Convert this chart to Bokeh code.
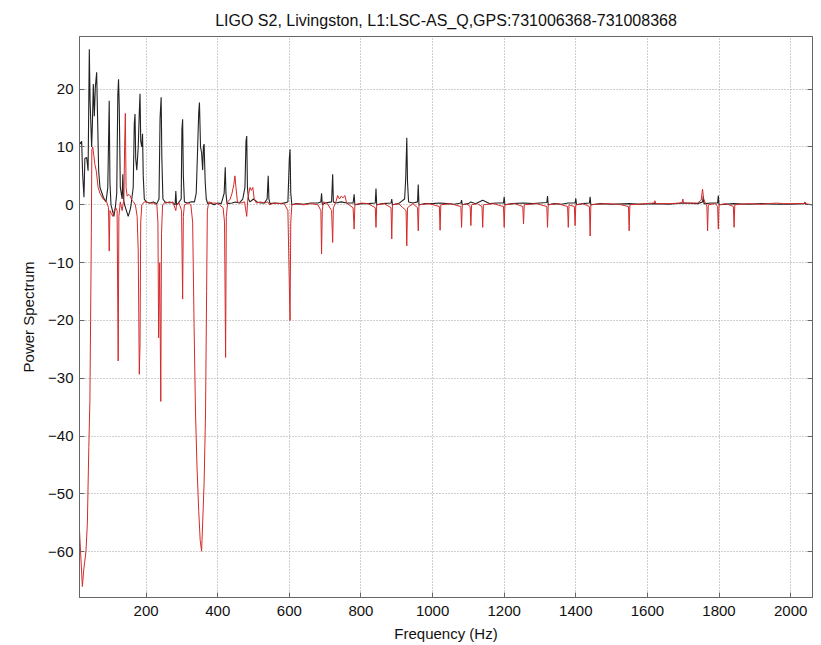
from bokeh.plotting import figure
from bokeh.models import Range1d, LinearAxis, FixedTicker
from bokeh.embed import file_html
from bokeh.resources import INLINE

TITLE = "LIGO S2, Livingston, L1:LSC-AS_Q,GPS:731006368-731008368"
X_LABEL = "Frequency (Hz)"
Y_LABEL = "Power Spectrum"
x_ticks = [200, 400, 600, 800, 1000, 1200, 1400, 1600, 1800, 2000]
y_ticks = [-60, -50, -40, -30, -20, -10, 0, 10, 20]

# black trace (frequency Hz, value)
blk_f = [13.5, 18, 20, 22.8, 26.5, 29, 34, 38, 41.4, 43.5, 45, 47.9, 50, 52.6, 55.4, 58.2, 61.9, 64.7, 67.5, 71.2,
         80.6, 88, 93, 97, 99, 102, 106, 110, 114, 118, 121, 123, 125, 128, 133, 135, 137, 140, 145, 150,
         155, 158, 160, 164, 167, 169, 171, 174, 178, 181, 183, 185, 188, 190, 192, 195, 200, 210, 220, 230,
         236, 239, 242, 244, 247, 255, 265, 275, 281, 283, 285, 290, 298, 300, 302, 304, 307, 315, 325, 335,
         340, 344, 347, 349, 352, 355, 358, 360, 362, 365, 368, 372, 380, 390, 400, 410, 418, 421, 423, 426,
         440, 450, 460, 470, 476, 479, 481, 483, 486, 490, 500, 510, 520, 530, 538, 541, 543, 546, 560, 580,
         596, 600, 602, 604, 607, 620, 640, 660, 680, 688, 690, 692, 700, 718, 721, 723, 730, 745, 760, 778,
         781, 783, 800, 820, 840, 842, 844, 860, 884, 886, 888, 905, 922, 925, 928, 930, 933, 945, 958, 960,
         962, 980, 1000, 1020, 1040, 1060, 1079, 1081, 1083, 1100, 1107, 1120, 1140, 1160, 1180, 1198, 1200, 1202, 1220, 1254,
         1280, 1300, 1319, 1321, 1323, 1340, 1360, 1379, 1398, 1400, 1402, 1420, 1438, 1440, 1442, 1470, 1500, 1549, 1580, 1620,
         1660, 1700, 1740, 1754, 1756, 1758, 1780, 1796, 1798, 1800, 1840, 1880, 1920, 1960, 2000, 2038, 2040, 2042, 2060]
blk_v = [11, 10.5, 11, 5.3, 1.3, 8, 8.2, 5.9, 26.9, 18, 15.3, 10, 14, 20.9, 15.3, 20.3, 22.9, 14.4, 5.9, 3,
         1.3, 0.5, 3, 18, 4, 0, -1, -2, -0.5, 2, 19, 21.7, 17, 3, 1, 5.3, 1, 0, -1, -2,
         -1, 0, 1, 3, 14, 15.7, 8, 6, 10, 16, 19.2, 11, 10, 12.3, 5, 1, 0.5, 0.3, 0.5, 0.2,
         1, 15, 18.6, 8, 1, 0.3, 0.5, 0.3, 0, 2.4, 0, 0.3, 1, 13, 14.8, 5, 0.5, 0.3, 0.5, 0.5,
         2, 10, 16, 17.7, 10, 9, 6, 10, 10.5, 4, 1, 0.2, 0.3, 0, 0.3, 0.2, 2, 6.5, 2, 0.2,
         0.3, 0.5, 0.3, 1, 3, 11, 11.9, 3, 1, 0.5, 1, 0.5, 0.3, 0.3, 1, 5, 1, 0.2, 0.3, 0.2,
         0.5, 8, 9.6, 2, 0, 0.2, 0.1, 0.3, 0.3, 0.5, 2, 0, 0.3, 0.5, 5.3, 0.5, 0.3, 0.5, 0.3, 0.3,
         1.8, 0, 0.2, 0.2, 0.3, 2.8, 0, 0.2, 0.3, 1, 0, 0.2, 1, 4.6, 11.6, 4, 0.5, 0.3, 0.5, 3.5,
         0, 0.2, 0.2, 0.3, 0.2, 0.1, 0.3, 0.8, 0, 0.2, 0.5, 0.2, 0.8, 0.2, 0.3, 0.3, 1.4, 0, 0.2, 0.3,
         0.2, 0.3, 0.4, 1.5, 0, 0.2, 0.1, 0.3, 0.3, 1.1, 0, 0.2, 0.3, 1.4, 0, 0.2, 0.1, 0.2, 0.1, 0.2,
         0.1, 0.3, 0.2, 0.5, 1.5, 0.2, 0.3, 0.3, 1.6, 0, 0.2, 0.1, 0.2, 0.1, 0.1, 0.2, 0.4, 0.1, 0]

# red trace (frequency Hz, value)
red_f = [13, 17, 22, 26, 32, 36, 40, 43, 45, 47, 48.5, 51, 54, 57, 61, 66, 71, 80, 90, 95,
         97, 99, 103, 107, 111, 115, 119, 122, 124, 128, 133, 138, 140, 142, 144, 147, 152, 156, 160, 165,
         170, 175, 178, 181, 183, 185, 188, 195, 200, 210, 220, 230, 233, 235, 238, 241, 243, 246, 255, 265,
         275, 283, 285, 292, 299, 302, 304, 307, 318, 325, 330, 334, 338, 342, 347, 351, 355, 358, 362, 366,
         369, 371, 375, 385, 395, 405, 415, 419, 422, 424, 428, 435, 440, 445, 448, 451, 455, 465, 475, 481,
         484, 487, 490, 494, 498, 502, 508, 520, 530, 540, 545, 555, 570, 585, 596, 600, 602, 604, 607, 620,
         640, 660, 680, 688, 690, 692, 695, 705, 718, 721, 723, 730, 735, 740, 745, 750, 755, 760, 778, 781,
         783, 800, 820, 840, 842, 844, 865, 884, 886, 888, 905, 926, 928, 930, 945, 958, 960, 962, 990, 1019,
         1021, 1023, 1050, 1079, 1081, 1083, 1095, 1105, 1107, 1109, 1125, 1138, 1140, 1142, 1170, 1198, 1200, 1202, 1230, 1252,
         1254, 1256, 1290, 1319, 1321, 1323, 1350, 1377, 1379, 1381, 1396, 1398, 1400, 1420, 1438, 1440, 1442, 1480, 1520, 1547,
         1549, 1551, 1590, 1619, 1621, 1623, 1660, 1690, 1697, 1699, 1701, 1740, 1750, 1754, 1757, 1766, 1768, 1770, 1790, 1796,
         1798, 1800, 1820, 1840, 1842, 1844, 1880, 1920, 1960, 1980, 2000, 2038, 2040, 2042, 2060]
red_v = [-55, -60, -66, -63, -60, -55, -42, -34, -20, -5, 9.5, 10, 8.5, 7, 5.8, 3, 2, 1, 0.5, -0.5,
         -8, -1, -1.5, -2, -1, -0.5, -1, -27, -2, 0.5, -1, 1, 10, 15.8, 3, 1.5, 1.8, 1.5, 0.8, 0.5,
         0, -2, -8, -29.3, -24, -3, 0, 0.5, 0.5, 0.3, 0.3, 0, -3, -23, -10, -34, -5, 0, 0.5, 0.3,
         0.5, -1, 0, 0.3, -1, -16.3, -2, 0, 0.3, 0, -3, -21, -36, -45, -53, -58, -59.9, -55, -48, -36,
         -15, -1, 0.5, 0.3, 0.3, 0, -0.5, -3, -26.4, -2, 0.5, 1, 2, 3.5, 5, 3, 0.5, 0.3, 0.5, -2,
         1, 2, 3, 2.5, 3, 1, 0.3, 0.5, 0.3, 0.5, 0, 0.3, 0.2, 0.3, -1, -14, -20, -3, 0, 0.2,
         0, 0.2, 0, -1, -8.5, -1, 0.5, 0.3, -1, -6.5, -0.5, 0.5, 1.6, 1, 1.5, 1.2, 1.6, 0.3, -0.5, -4.2,
         0, 0.3, 0.2, -0.5, -3.9, 0, 0.2, -0.5, -5.9, 0, 0.2, -1, -7.1, -0.5, 0.2, -0.5, -4.5, 0, 0.2, -0.3,
         -4.4, 0, 0.2, -0.3, -3.9, 0, 0.2, -0.3, -3.6, 0, 0.2, -0.3, -3.9, 0, 0.2, -0.3, -3.9, 0, 0.2, -0.3,
         -3.3, 0, 0.2, -0.3, -3.9, 0, 0.2, -0.3, -3.9, 0, -0.3, -3.6, 0, 0.2, -0.3, -5.4, 0, 0.2, 0.1, -0.3,
         -4.5, 0, 0.2, 0.3, 0.7, 0.2, 0.2, 0.3, 0.4, 1, 0.3, 0.3, 0.8, 2.7, 1, -0.3, -4.5, 0, 0.2, -0.3,
         -4.2, 0, 0.2, -0.3, -3.9, 0, 0.2, 0.1, 0.3, 0.2, 0.2, 0.2, 0.5, 0.2, 0]

FONT = "Liberation Sans"

p = figure(width=820, height=642, output_backend="svg", toolbar_location=None,
           x_range=Range1d(14, 2061), y_range=Range1d(-67.9, 29.1),
           min_border_left=79, min_border_right=8, min_border_top=36, min_border_bottom=45)
p.frame_width = 733
p.frame_height = 561

p.title.text = TITLE
p.title.align = "center"
p.title.text_font = FONT
p.title.text_font_size = "16px"
p.title.text_font_style = "normal"
p.title.text_color = "#111111"
p.title.standoff = 16

p.background_fill_color = "white"
p.border_fill_color = "white"
p.outline_line_color = "#666666"
p.outline_line_width = 1

for ax in (p.xaxis[0], p.yaxis[0]):
    ax.major_tick_in = 5
    ax.major_tick_out = 0
    ax.minor_tick_in = 0
    ax.minor_tick_out = 0
    ax.axis_line_color = "#666666"
    ax.major_tick_line_color = "#666666"
    ax.major_label_text_font = FONT
    ax.major_label_text_font_size = "15px"
    ax.major_label_text_color = "#111111"
    ax.axis_label_text_font = FONT
    ax.axis_label_text_font_size = "15px"
    ax.axis_label_text_font_style = "normal"
    ax.axis_label_text_color = "#111111"

p.xaxis.ticker = FixedTicker(ticks=x_ticks)
p.yaxis.ticker = FixedTicker(ticks=y_ticks)
p.xaxis.axis_label = X_LABEL
p.yaxis.axis_label = Y_LABEL
p.xaxis.major_label_standoff = 8
p.xaxis.axis_label_standoff = 6
p.yaxis.major_label_standoff = 6
p.yaxis.axis_label_standoff = 8

# ticks on right side (no labels)
rax = LinearAxis(ticker=FixedTicker(ticks=y_ticks), major_tick_in=5, major_tick_out=0,
                 minor_tick_in=0, minor_tick_out=0, axis_line_color="#666666",
                 major_tick_line_color="#666666", major_label_standoff=0,
                 major_label_overrides={t: "" for t in y_ticks}, major_label_text_font_size="1px")
p.add_layout(rax, "right")

p.xgrid.ticker = FixedTicker(ticks=x_ticks)
p.ygrid.ticker = FixedTicker(ticks=y_ticks)
for g in (p.xgrid[0], p.ygrid[0]):
    g.grid_line_color = "#a0a0a0"
    g.grid_line_dash = "1 2"
    g.grid_line_width = 1

p.line(blk_f, blk_v, line_color="#222222", line_width=1.1)
p.line(red_f, red_v, line_color="#d42a2a", line_width=1)

open("out.html", "w").write(file_html(p, INLINE))
